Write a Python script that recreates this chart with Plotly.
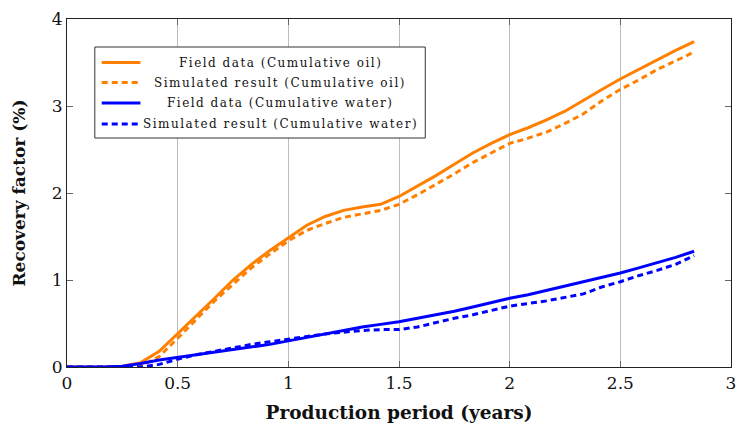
import plotly.graph_objects as go

# Production time in years (monthly steps)
years = [k / 12 for k in range(35)]

# Recovery factor (%) series
oil_field = [0, 0, 0, 0.01, 0.05, 0.18, 0.38, 0.58, 0.79, 1.00, 1.18, 1.34, 1.49,
             1.63, 1.73, 1.80, 1.84, 1.87, 1.96, 2.08, 2.20, 2.33, 2.46, 2.57,
             2.67, 2.75, 2.84, 2.94, 3.07, 3.19, 3.31, 3.42, 3.53, 3.64, 3.74]
oil_sim = [0, 0, 0, 0, 0.01, 0.12, 0.33, 0.55, 0.76, 0.95, 1.14, 1.30, 1.45,
           1.57, 1.65, 1.72, 1.76, 1.80, 1.87, 1.98, 2.10, 2.22, 2.35, 2.46,
           2.57, 2.63, 2.70, 2.80, 2.91, 3.06, 3.19, 3.30, 3.42, 3.52, 3.62]
water_field = [0, 0, 0, 0.01, 0.04, 0.08, 0.11, 0.14, 0.17, 0.20, 0.23, 0.26, 0.30,
               0.34, 0.38, 0.42, 0.46, 0.49, 0.52, 0.56, 0.60, 0.64, 0.69, 0.74,
               0.79, 0.83, 0.88, 0.93, 0.98, 1.03, 1.08, 1.14, 1.20, 1.26, 1.33]
water_sim = [0, 0, 0, 0, 0, 0.03, 0.09, 0.14, 0.18, 0.22, 0.26, 0.29, 0.32,
             0.35, 0.38, 0.40, 0.42, 0.43, 0.43, 0.46, 0.51, 0.56, 0.60, 0.65,
             0.70, 0.73, 0.76, 0.80, 0.84, 0.92, 0.98, 1.05, 1.11, 1.18, 1.28]

series_names = [
    "Field data (Cumulative oil)",
    "Simulated result (Cumulative oil)",
    "Field data (Cumulative water)",
    "Simulated result (Cumulative water)",
]

x_ticks = [0, 0.5, 1, 1.5, 2, 2.5, 3]
x_tick_text = ["0", "0.5", "1", "1.5", "2", "2.5", "3"]
y_ticks = [0, 1, 2, 3, 4]

ORANGE = "#FF8000"
BLUE = "#0000FF"
DASH = "6px,4px"
SERIF = "DejaVu Serif"

styles = [(ORANGE, "solid"), (ORANGE, DASH), (BLUE, "solid"), (BLUE, DASH)]
values = [oil_field, oil_sim, water_field, water_sim]

fig = go.Figure()
for name, vals, (color, dash) in zip(series_names, values, styles):
    fig.add_trace(go.Scatter(
        x=years, y=vals, mode="lines", name=name, showlegend=False,
        line=dict(color=color, width=3, dash=dash),
    ))

# Boxed legend with centred entry labels (paper coordinates)
box_x0, box_x1, box_y0, box_y1 = 0.0419, 0.5396, 0.658, 0.9195
sample_x0, sample_x1 = 0.0523, 0.1106
label_x = 0.3214
row_y = [0.875, 0.8175, 0.7586, 0.6983]

fig.add_shape(type="rect", xref="paper", yref="paper",
              x0=box_x0, x1=box_x1, y0=box_y0, y1=box_y1,
              line=dict(color="#333", width=1), fillcolor="white", layer="above")
for name, (color, dash), ry in zip(series_names, styles, row_y):
    fig.add_shape(type="line", xref="paper", yref="paper",
                  x0=sample_x0, x1=sample_x1, y0=ry, y1=ry,
                  line=dict(color=color, width=3, dash=dash), layer="above")
    fig.add_annotation(
        xref="paper", yref="paper", x=label_x, y=ry,
        xanchor="center", yanchor="middle", showarrow=False,
        text=f'<span style="letter-spacing:1.5px">{name}</span>',
        font=dict(family=SERIF, size=12, color="#111"),
    )

fig.update_layout(
    width=738, height=423,
    margin=dict(l=67, r=2, t=19, b=56),
    paper_bgcolor="white", plot_bgcolor="white",
    font=dict(family=SERIF, size=17, color="#111"),
    showlegend=False,
    xaxis=dict(
        range=[0, 3], tickvals=x_ticks, ticktext=x_tick_text,
        ticklabeloverflow="allow",
        showgrid=True, gridcolor="#bdbdbd", gridwidth=1,
        showline=True, linecolor="#222", linewidth=1.2, mirror="ticks",
        ticks="inside", ticklen=6, tickcolor="#666",
        zeroline=False,
        title=dict(text="<b>Production period (years)</b>", standoff=14,
                   font=dict(family=SERIF, size=18.5)),
    ),
    yaxis=dict(
        range=[0, 4], tickvals=y_ticks,
        showgrid=False,
        showline=True, linecolor="#222", linewidth=1.2, mirror="ticks",
        ticks="inside", ticklen=6, tickcolor="#666",
        zeroline=False,
        title=dict(text="<b>Recovery factor (%)</b>", standoff=21,
                   font=dict(family=SERIF, size=17)),
    ),
)

fig.write_html("out.html")
